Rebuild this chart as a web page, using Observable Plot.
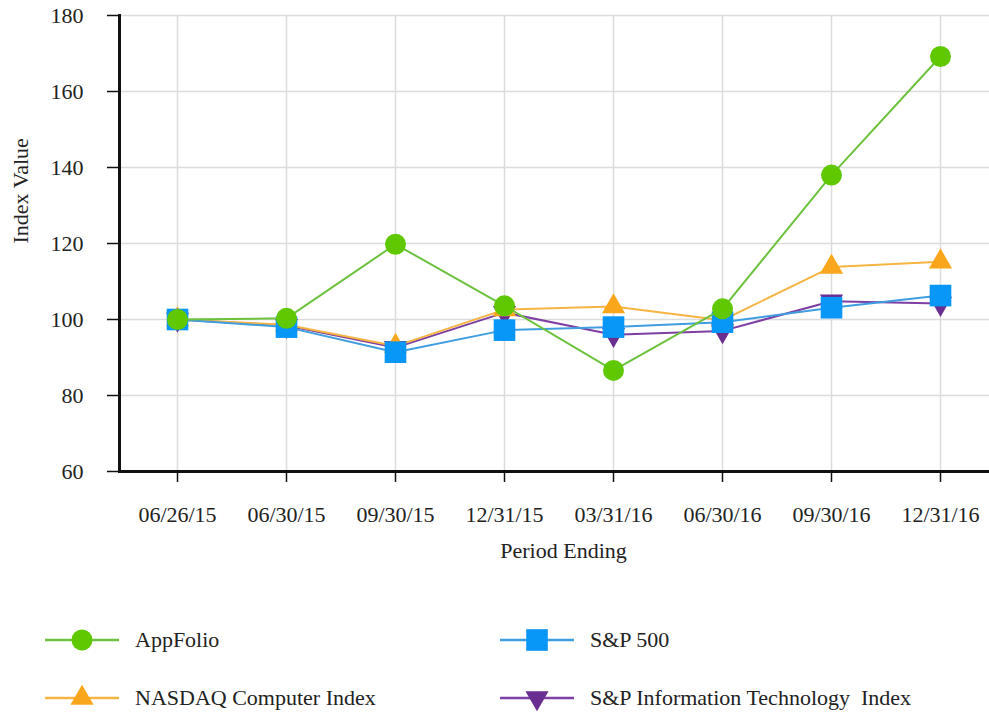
<!DOCTYPE html>
<html><head><meta charset="utf-8">
<script src="https://cdn.jsdelivr.net/npm/d3@7"></script>
<script src="https://cdn.jsdelivr.net/npm/@observablehq/plot@0.6"></script>
<style>
body{margin:0;background:#fff;font-family:"Liberation Serif","Times New Roman",serif;}
#wrap{position:relative;width:989px;height:717px;overflow:hidden;}
.leg{position:absolute;height:30px;display:flex;align-items:center;font-size:22px;color:#222;white-space:pre;}
.leg svg{display:block;}
</style></head><body>
<div id="wrap"><div id="chart"></div><div id="legend"></div></div>
<script>
const periods = ["06/26/15","06/30/15","09/30/15","12/31/15","03/31/16","06/30/16","09/30/16","12/31/16"];
const appfolio = [100, 100.3, 119.8, 103.6, 86.6, 102.8, 138.0, 169.2];
const nasdaqComputer = [100, 98.6, 93.0, 102.6, 103.4, 99.8, 113.8, 115.2];
const sp500 = [100, 98.0, 91.4, 97.2, 98.0, 99.3, 103.1, 106.3];
const spInfoTech = [100, 98.4, 92.6, 101.8, 96.0, 97.0, 104.8, 104.2];
const yTicks = [60, 80, 100, 120, 140, 160, 180];
const seriesNames = ["AppFolio", "S&P 500", "NASDAQ Computer Index", "S&P Information Technology  Index"];

const downTriangle = {
  draw(context, size) {
    const sqrt3 = Math.sqrt(3);
    const y = -Math.sqrt(size / (sqrt3 * 3));
    context.moveTo(0, -y * 2);
    context.lineTo(-sqrt3 * y, y);
    context.lineTo(sqrt3 * y, y);
    context.closePath();
  }
};

const styles = {
  "AppFolio": {values: appfolio, line: "#6cc13d", fill: "#5fc800", symbol: "circle", r: 10.5, d3sym: d3.symbolCircle},
  "S&P 500": {values: sp500, line: "#3f9de0", fill: "#0896f7", symbol: "square", r: 12.2, d3sym: d3.symbolSquare},
  "NASDAQ Computer Index": {values: nasdaqComputer, line: "#f6b443", fill: "#f9a61c", symbol: "triangle", r: 8.6, d3sym: d3.symbolTriangle},
  "S&P Information Technology  Index": {values: spInfoTech, line: "#7d3fa3", fill: "#6a2d90", symbol: downTriangle, r: 8.6, d3sym: downTriangle}
};

const drawOrder = ["S&P Information Technology  Index", "NASDAQ Computer Index", "S&P 500", "AppFolio"];
const seriesMarks = drawOrder.flatMap(name => {
  const s = styles[name];
  const rows = periods.map((p, i) => ({period: p, value: s.values[i]}));
  return [
    Plot.line(rows, {x: "period", y: "value", stroke: s.line, strokeWidth: 2}),
    Plot.dot(rows, {x: "period", y: "value", symbol: s.symbol, r: s.r, fill: s.fill, stroke: "none"})
  ];
});

const chart = Plot.plot({
  width: 989, height: 600,
  marginLeft: 119, marginRight: 0, marginTop: 15, marginBottom: 129,
  style: {fontFamily: "'Liberation Serif', 'Times New Roman', serif", fontSize: "22px", color: "#222", background: "white"},
  x: {type: "point", domain: periods, range: [174, 942], padding: 0},
  y: {domain: [60, 180]},
  marks: [
    Plot.gridX(periods, {stroke: "#dcdcdc", strokeOpacity: 1, strokeWidth: 1.5}),
    Plot.gridY(yTicks, {stroke: "#dcdcdc", strokeOpacity: 1, strokeWidth: 1.5}),
    Plot.axisY(yTicks, {tickSize: 12, tickPadding: 24, stroke: "#111", strokeWidth: 1.5, fill: "#222", label: null, fontSize: 22}),
    Plot.axisX(periods, {tickSize: 11, tickPadding: 24, stroke: "#111", strokeWidth: 1.5, fill: "#222", label: null, fontSize: 22}),
    Plot.ruleY([60], {stroke: "#111", strokeWidth: 3}),
    Plot.frame({anchor: "left", stroke: "#111", strokeWidth: 3}),
    ...seriesMarks,
    Plot.text(["Period Ending"], {text: d => d, frameAnchor: "bottom", dx: 9, dy: 86, fontSize: 22, fill: "#222"}),
    Plot.text(["Index Value"], {text: d => d, frameAnchor: "left", dx: -99, rotate: -90, fontSize: 22, fill: "#222"})
  ]
});
document.getElementById("chart").appendChild(chart);

// Legend (HTML below the SVG)
const legendPos = {
  "AppFolio": {col: 0, row: 0},
  "S&P 500": {col: 1, row: 0},
  "NASDAQ Computer Index": {col: 0, row: 1},
  "S&P Information Technology  Index": {col: 1, row: 1}
};
const colLeft = [45, 500], rowTop = [625, 683];
const legend = document.getElementById("legend");
seriesNames.forEach(name => {
  const s = styles[name], p = legendPos[name];
  const div = document.createElement("div");
  div.className = "leg";
  div.style.left = colLeft[p.col] + "px";
  div.style.top = rowTop[p.row] + "px";
  const svg = d3.create("svg").attr("width", 90).attr("height", 30);
  svg.append("line").attr("x1", 0).attr("x2", 74).attr("y1", 15).attr("y2", 15)
    .attr("stroke", s.line).attr("stroke-width", 2.5);
  svg.append("path").attr("transform", "translate(37,15)")
    .attr("d", d3.symbol(s.d3sym, Math.PI * s.r * s.r)())
    .attr("fill", s.fill);
  div.appendChild(svg.node());
  const span = document.createElement("span");
  span.textContent = name;
  div.appendChild(span);
  legend.appendChild(div);
});
</script>
</body></html>
